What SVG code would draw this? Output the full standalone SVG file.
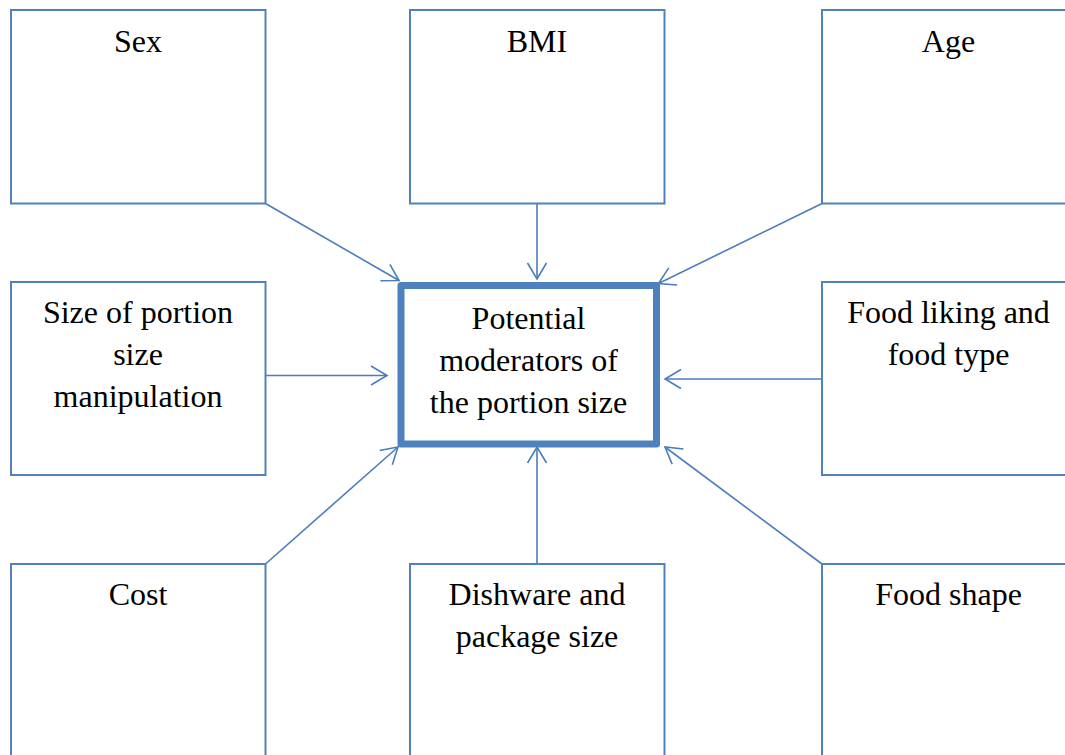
<svg xmlns="http://www.w3.org/2000/svg" width="1065" height="755" viewBox="0 0 1065 755">
<defs>
<style>
.box{fill:#fff;stroke:#4f81bd;stroke-width:2}
.main{fill:#fff;stroke:#4f81bd;stroke-width:7;stroke-linejoin:round}
.t{font-family:'Liberation Serif',serif;font-size:32px}
.c{stroke:#4a7ebb;stroke-width:1.6;fill:none}
</style>
<marker id="ah" markerUnits="userSpaceOnUse" markerWidth="24" markerHeight="24" viewBox="-20 -12 24 24" refX="0" refY="0" orient="auto">
<path d="M-16,-9.5 L0,0 L-16,9.5" fill="none" stroke="#4a7ebb" stroke-width="1.6"/>
</marker>
</defs>
<rect width="1065" height="755" fill="#fff"/>
<g id="connectors">
<line class="c" x1="265.5" y1="203.5" x2="399" y2="280.5" marker-end="url(#ah)"/>
<line class="c" x1="537" y1="203.5" x2="537" y2="279" marker-end="url(#ah)"/>
<line class="c" x1="822" y1="203.5" x2="658.5" y2="283.5" marker-end="url(#ah)"/>
<line class="c" x1="265.5" y1="375.5" x2="387" y2="375.5" marker-end="url(#ah)"/>
<line class="c" x1="822" y1="379" x2="665" y2="379" marker-end="url(#ah)"/>
<line class="c" x1="265.5" y1="564" x2="398" y2="447" marker-end="url(#ah)"/>
<line class="c" x1="537" y1="564" x2="537" y2="447" marker-end="url(#ah)"/>
<line class="c" x1="822" y1="564" x2="665" y2="447" marker-end="url(#ah)"/>
</g>
<g id="center">
<rect class="main" x="401" y="285.5" width="255.5" height="158.5"/>
<text class="t" x="528.5" y="329" text-anchor="middle">Potential</text>
<text class="t" x="528.5" y="371" text-anchor="middle">moderators of</text>
<text class="t" x="528.5" y="413" text-anchor="middle">the portion size</text>
</g>
<g id="sex">
<rect class="box" x="11" y="10" width="254.5" height="193.5"/>
<text class="t" x="138" y="52" text-anchor="middle">Sex</text>
</g>
<g id="bmi">
<rect class="box" x="410" y="10" width="254.5" height="193.5"/>
<text class="t" x="537" y="52" text-anchor="middle">BMI</text>
</g>
<g id="age">
<rect class="box" x="822" y="10" width="254.5" height="193.5"/>
<text class="t" x="948.5" y="52" text-anchor="middle">Age</text>
</g>
<g id="size">
<rect class="box" x="11" y="282" width="254.5" height="193"/>
<text class="t" x="138" y="322.5" text-anchor="middle">Size of portion</text>
<text class="t" x="138" y="364.5" text-anchor="middle">size</text>
<text class="t" x="138" y="406.5" text-anchor="middle">manipulation</text>
</g>
<g id="liking">
<rect class="box" x="822" y="282" width="254.5" height="193"/>
<text class="t" x="948.5" y="322.5" text-anchor="middle">Food liking and</text>
<text class="t" x="948.5" y="364.5" text-anchor="middle">food type</text>
</g>
<g id="cost">
<rect class="box" x="11" y="564" width="254.5" height="194"/>
<text class="t" x="138" y="605" text-anchor="middle">Cost</text>
</g>
<g id="dishware">
<rect class="box" x="410" y="564" width="254.5" height="194"/>
<text class="t" x="537" y="605" text-anchor="middle">Dishware and</text>
<text class="t" x="537" y="647" text-anchor="middle">package size</text>
</g>
<g id="shape">
<rect class="box" x="822" y="564" width="254.5" height="194"/>
<text class="t" x="948.5" y="605" text-anchor="middle">Food shape</text>
</g>
</svg>
